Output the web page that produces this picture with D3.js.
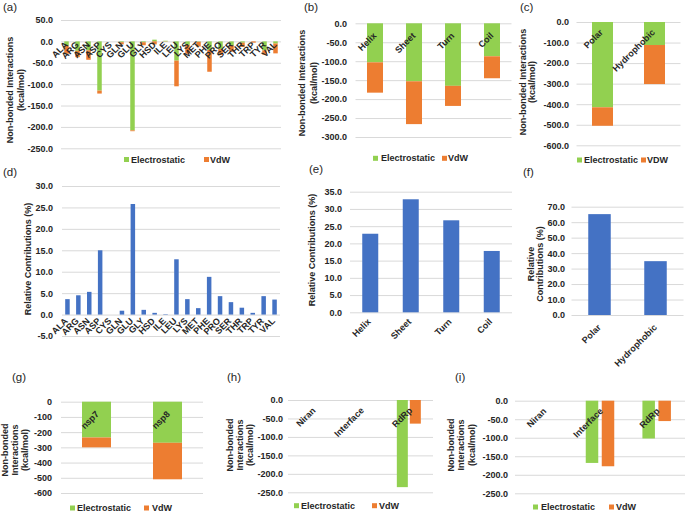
<!DOCTYPE html>
<html><head><meta charset="utf-8">
<script src="https://cdn.jsdelivr.net/npm/d3@7"></script>
<style>body{margin:0;background:#fff}</style>
</head><body>
<script>
// ---------- DATA ----------
const residues = ["ALA","ARG","ASN","ASP","CYS","GLN","GLU","GLY","HSD","ILE","LEU","LYS","MET","PHE","PRO","SER","THR","TRP","TYR","VAL"];
const resElec  = [-10,-22,-21,-115,0,-2,-208,-2,4,1.5,-45,-8,-1,-20,-18,-9,-3,0,-21,-5];
const resVdw   = [-19,-15,-22,-7,0,-5,-2,-7,-7,-0.5,-60,-21,-11,-51,-14,-15,-10,-3,-10,-23];
const resContrib = [3.6,4.5,5.3,15.0,0.0,0.9,25.8,1.1,0.4,-0.1,12.9,3.6,1.5,8.8,4.3,2.9,1.6,0.4,4.3,3.5];

const ssCats = ["Helix","Sheet","Turn","Coil"];
const ssElec = [-103,-153,-165,-87];
const ssVdw  = [-80,-113,-53,-58];
const ssContrib = [22.8,32.8,26.7,17.8];

const polCats = ["Polar","Hydrophobic"];
const polElec = [-415,-112];
const polVdw  = [-90,-190];
const polContrib = [65.2,34.8];

const nspCats = ["nsp7","nsp8"];
const nspElec = [-235,-270];
const nspVdw  = [-65,-240];

const regCats = ["Niran","Interface","RdRp"];
const hElec = [0,0,-236];
const hVdw  = [0,0,-64];
const iElec = [0,-168,-102];
const iVdw  = [0,-177,-55];

const legendLabels = ["Electrostatic","VdW"];
const legendLabelsC = ["Electrostatic","VDW"];
const energyTitle = ["Non-bonded Interactions","(kcal/mol)"];
const energyTitle3 = ["Non-bonded","Interactions","(kcal/mol)"];
const contribTitle = ["Relative Contributions (%)"];
const contribTitle2 = ["Relative","Contributions (%)"];

// ---------- STYLE ----------
const FONT = "'Liberation Sans', Arial, sans-serif";
const TXT = "#262626";
const GREEN = "#92D050", ORANGE = "#ED7D31", BLUE = "#4472C4", GRID = "#D9D9D9";

const svg = d3.select("body").append("svg").attr("width",685).attr("height",513)
  .style("font-family",FONT);

const f1 = v => d3.format(".1f")(v).replace("\u2212","-");
const f0 = v => d3.format("d")(v).replace("\u2212","-");

function yAxis(y, x0, x1, labelEnd, ticks, fmt){
  const ax = d3.axisLeft(y).tickValues(ticks).tickSizeInner(-(x1-x0)).tickSizeOuter(0)
    .tickPadding(x0-labelEnd).tickFormat(fmt);
  const a = svg.append("g").attr("transform",`translate(${x0},0)`).call(ax);
  a.attr("font-family",FONT).attr("font-size",9);
  a.select(".domain").remove();
  a.selectAll(".tick line").attr("stroke",GRID).attr("stroke-width",1);
  a.selectAll(".tick text").attr("fill",TXT).attr("font-weight","bold");
}
function panelLabel(t,x,y){
  svg.append("text").attr("x",x).attr("y",y).attr("font-size",11.5).attr("fill",TXT).text(t);
}
function yTitle(lines, xs, cy){
  lines.forEach((l,i)=>{
    svg.append("text").attr("transform",`translate(${xs[i]},${cy}) rotate(-90)`)
      .attr("text-anchor","middle").attr("dominant-baseline","central")
      .attr("font-size",9).attr("font-weight","bold").attr("fill",TXT).text(l);
  });
}
function catLabels(x, cats, y0, dx, dy){
  cats.forEach(c=>{
    const cx = x(c)+x.bandwidth()/2;
    svg.append("text").attr("transform",`translate(${cx+dx},${y0+dy}) rotate(-45)`)
      .attr("text-anchor","end").attr("font-size",9).attr("font-weight","bold")
      .attr("fill",TXT).text(c);
  });
}
function legend(y, items){
  items.forEach(it=>{
    svg.append("rect").attr("x",it.sx).attr("y",y-2.5).attr("width",5).attr("height",5).attr("fill",it.color);
    svg.append("text").attr("x",it.tx).attr("y",y).attr("dominant-baseline","central")
      .attr("font-size",9).attr("font-weight","bold").attr("fill",TXT).text(it.label);
  });
}

function stacked(cfg){
  const y = d3.scaleLinear().domain(cfg.yd).range(cfg.yr);
  const x = d3.scaleBand().domain(cfg.cats).range([cfg.x0,cfg.x1]);
  yAxis(y, cfg.x0, cfg.x1, cfg.labelEnd, d3.range(cfg.yd[0], cfg.yd[1]+cfg.step/2, cfg.step), cfg.fmt);
  const data = cfg.cats.map((c,i)=>({cat:c, elec:cfg.elec[i], vdw:cfg.vdw[i]}));
  const series = d3.stack().keys(["elec","vdw"]).offset(d3.stackOffsetDiverging)(data);
  const colors = {elec:GREEN, vdw:ORANGE};
  series.forEach(s=>{
    svg.append("g").selectAll("rect").data(s).join("rect")
      .attr("x", d=> x(d.data.cat)+x.bandwidth()/2-cfg.bw/2)
      .attr("width", cfg.bw)
      .attr("y", d=> y(Math.max(d[0],d[1])))
      .attr("height", d=> Math.abs(y(d[0])-y(d[1])))
      .attr("fill", colors[s.key]);
  });
  catLabels(x, cfg.cats, y(0), cfg.ldx, cfg.ldy);
}
function grouped(cfg){
  const y = d3.scaleLinear().domain(cfg.yd).range(cfg.yr);
  const x = d3.scaleBand().domain(cfg.cats).range([cfg.x0,cfg.x1]);
  yAxis(y, cfg.x0, cfg.x1, cfg.labelEnd, d3.range(cfg.yd[0], cfg.yd[1]+cfg.step/2, cfg.step), cfg.fmt);
  const L = 2*cfg.bw+cfg.gap;
  const inner = d3.scaleBand().domain(["elec","vdw"]).range([-L/2, L/2]).paddingInner(cfg.gap/(cfg.bw+cfg.gap));
  const data = cfg.cats.map((c,i)=>({cat:c, elec:cfg.elec[i], vdw:cfg.vdw[i]}));
  [["elec",GREEN],["vdw",ORANGE]].forEach(([k,col])=>{
    svg.append("g").selectAll("rect").data(data).join("rect")
      .attr("x", d=> x(d.cat)+x.bandwidth()/2+inner(k))
      .attr("width", inner.bandwidth())
      .attr("y", d=> y(Math.max(0,d[k])))
      .attr("height", d=> Math.abs(y(d[k])-y(0)))
      .attr("fill", col);
  });
  catLabels(x, cfg.cats, y(0), cfg.ldx, cfg.ldy);
}
function simple(cfg){
  const y = d3.scaleLinear().domain(cfg.yd).range(cfg.yr);
  const x = d3.scaleBand().domain(cfg.cats).range([cfg.x0,cfg.x1]);
  yAxis(y, cfg.x0, cfg.x1, cfg.labelEnd, d3.range(cfg.yd[0], cfg.yd[1]+cfg.step/2, cfg.step), cfg.fmt);
  const data = cfg.cats.map((c,i)=>({cat:c, v:cfg.vals[i]}));
  svg.append("g").selectAll("rect").data(data).join("rect")
    .attr("x", d=> x(d.cat)+x.bandwidth()/2-cfg.bw/2)
    .attr("width", cfg.bw)
    .attr("y", d=> y(Math.max(0,d.v)))
    .attr("height", d=> Math.abs(y(d.v)-y(0)))
    .attr("fill", BLUE);
  catLabels(x, cfg.cats, y(0), cfg.ldx, cfg.ldy);
}

// ---------- (a) ----------
panelLabel("(a)",3,11);
yTitle(energyTitle,[10,21],90);
stacked({cats:residues, elec:resElec, vdw:resVdw, yd:[-250,50], yr:[148.3,20], step:50, fmt:f1,
  x0:61, x1:281, labelEnd:53, bw:4.5, ldx:2, ldy:4});
legend(159.5,[{sx:124,tx:131,color:GREEN,label:legendLabels[0]},{sx:204,tx:210,color:ORANGE,label:legendLabels[1]}]);

// ---------- (b) ----------
panelLabel("(b)",304,11);
yTitle(energyTitle,[302,313.5],83);
stacked({cats:ssCats, elec:ssElec, vdw:ssVdw, yd:[-300,0], yr:[137,23.3], step:50, fmt:f1,
  x0:355.5, x1:511.5, labelEnd:347, bw:16, ldx:2, ldy:13});
legend(158.3,[{sx:373,tx:381,color:GREEN,label:legendLabels[0]},{sx:442,tx:448,color:ORANGE,label:legendLabels[1]}]);

// ---------- (c) ----------
panelLabel("(c)",520,11);
yTitle(energyTitle,[523,531.5],82);
stacked({cats:polCats, elec:polElec, vdw:polVdw, yd:[-600,0], yr:[145.3,22], step:100, fmt:f1,
  x0:576.5, x1:680.5, labelEnd:569, bw:21, ldx:1, ldy:11});
legend(160,[{sx:577,tx:584,color:GREEN,label:legendLabelsC[0]},{sx:641,tx:647,color:ORANGE,label:legendLabelsC[1]}]);

// ---------- (d) ----------
panelLabel("(d)",3,176);
yTitle(contribTitle,[27.5],259);
simple({cats:residues, vals:resContrib, yd:[-5,30], yr:[336,186], step:5, fmt:f1,
  x0:62, x1:280, labelEnd:53, bw:4.5, ldx:1, ldy:7});

// ---------- (e) ----------
panelLabel("(e)",309,172.5);
yTitle(contribTitle,[312],250);
simple({cats:ssCats, vals:ssContrib, yd:[0,35], yr:[312.3,191.7], step:5, fmt:f1,
  x0:350, x1:512, labelEnd:342, bw:16, ldx:1, ldy:10});

// ---------- (f) ----------
panelLabel("(f)",523,176);
yTitle(contribTitle2,[531,540],264);
simple({cats:polCats, vals:polContrib, yd:[0,70], yr:[315,206.7], step:10, fmt:f1,
  x0:571.5, x1:683.5, labelEnd:565, bw:22.5, ldx:2, ldy:13});

// ---------- (g) ----------
panelLabel("(g)",12,380.5);
yTitle(energyTitle3,[4.5,14.5,25],450);
stacked({cats:nspCats, elec:nspElec, vdw:nspVdw, yd:[-600,0], yr:[493,401.7], step:100, fmt:f0,
  x0:61, x1:203, labelEnd:52, bw:29, ldx:3, ldy:13});
legend(508,[{sx:70,tx:77,color:GREEN,label:legendLabels[0]},{sx:144,tx:152,color:ORANGE,label:legendLabels[1]}]);

// ---------- (h) ----------
panelLabel("(h)",227,380.5);
yTitle(energyTitle3,[229.5,239.5,250],445);
grouped({cats:regCats, elec:hElec, vdw:hVdw, yd:[-250,0], yr:[492.3,400], step:50, fmt:f1,
  x0:288, x1:433, labelEnd:283, bw:11, gap:2, ldx:4, ldy:11});
legend(505.7,[{sx:294,tx:301,color:GREEN,label:legendLabels[0]},{sx:372,tx:379,color:ORANGE,label:legendLabels[1]}]);

// ---------- (i) ----------
panelLabel("(i)",455,380.5);
yTitle(energyTitle3,[450.5,461,472],445);
grouped({cats:regCats, elec:iElec, vdw:iVdw, yd:[-250,0], yr:[493.3,400.7], step:50, fmt:f1,
  x0:515, x1:685, labelEnd:508, bw:12.5, gap:3.5, ldx:3.5, ldy:11});
legend(507,[{sx:533,tx:541,color:GREEN,label:legendLabels[0]},{sx:609,tx:616,color:ORANGE,label:legendLabels[1]}]);
</script>
</body></html>
